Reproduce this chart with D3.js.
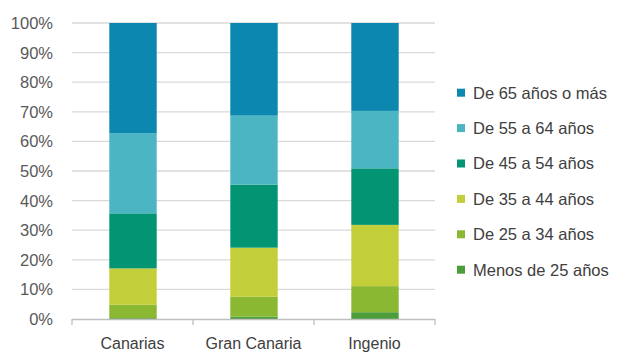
<!DOCTYPE html>
<html><head><meta charset="utf-8">
<script src="https://cdn.jsdelivr.net/npm/d3@7"></script>
<style>body{margin:0;background:#fff}svg{display:block}text{font-family:"Liberation Sans",Arial,sans-serif}</style>
</head><body><svg id="c" width="617" height="353"></svg>
<script>
const categories = ["Canarias", "Gran Canaria", "Ingenio"];
const seriesNames = ["Menos de 25 años", "De 25 a 34 años", "De 35 a 44 años", "De 45 a 54 años", "De 55 a 64 años", "De 65 años o más"];
const menos25 = [0.3, 0.8, 2.3];
const de25a34 = [4.5, 6.7, 8.8];
const de35a44 = [12.3, 16.6, 20.7];
const de45a54 = [18.6, 21.3, 19.1];
const de55a64 = [27.1, 23.3, 19.4];
const de65mas = [37.2, 31.3, 29.7];
const tickValues = [0, 10, 20, 30, 40, 50, 60, 70, 80, 90, 100];
const colors = ["#4e9d3c", "#8ab833", "#c3cf3a", "#039474", "#4bb5c4", "#0b87b0"];

const seriesVals = [menos25, de25a34, de35a44, de45a54, de55a64, de65mas];
const rows = categories.map((c, i) => {
  const r = {cat: c};
  seriesNames.forEach((s, j) => r[s] = seriesVals[j][i]);
  return r;
});
const stack = d3.stack().keys(seriesNames)(rows);

const svg = d3.select("#c");
const x0 = 72, x1 = 435, yTop = 23, yBot = 319;
const x = d3.scaleBand().domain(categories).range([x0, x1]).paddingInner(0.6).paddingOuter(0.3);
const y = d3.scaleLinear().domain([0, 100]).range([yBot, yTop]);

// gridlines
svg.append("g").selectAll("line").data(tickValues.filter(t => t > 0)).join("line")
  .attr("x1", x0).attr("x2", x1).attr("y1", y).attr("y2", y)
  .attr("stroke", "#d9d9d9").attr("stroke-width", 1.3);

// y labels
svg.append("g").selectAll("text").data(tickValues).join("text")
  .attr("x", 53).attr("y", d => y(d)).attr("dy", "0.36em").attr("text-anchor", "end")
  .attr("font-size", 16.5).attr("fill", "#595959").text(d => d + "%");

// bars
svg.append("g").selectAll("g").data(stack).join("g")
  .attr("fill", (d, i) => colors[i])
  .selectAll("rect").data(d => d).join("rect")
  .attr("x", d => x(d.data.cat) + 1).attr("width", x.bandwidth() - 1)
  .attr("y", d => y(d[1])).attr("height", d => y(d[0]) - y(d[1]));

// x axis
const xb = d3.scalePoint().domain(d3.range(categories.length + 1)).range([x0, x1]);
const ax = svg.append("g");
ax.append("line").attr("x1", x0).attr("x2", x1).attr("y1", yBot + 0.5).attr("y2", yBot + 0.5).attr("stroke", "#bfbfbf").attr("stroke-width", 1.3);
ax.selectAll("line.t").data(xb.domain()).join("line").attr("class", "t")
  .attr("x1", d => xb(d)).attr("x2", d => xb(d)).attr("y1", yBot).attr("y2", yBot + 6)
  .attr("stroke", "#bfbfbf").attr("stroke-width", 1.3);
ax.selectAll("text").data(categories).join("text")
  .attr("x", d => x(d) + x.bandwidth() / 2).attr("y", 348.5).attr("text-anchor", "middle")
  .attr("font-size", 16).attr("fill", "#404040").text(d => d);

// legend
const legOrder = seriesNames.slice().reverse();
const lg = svg.append("g").selectAll("g").data(legOrder).join("g")
  .attr("transform", (d, i) => `translate(457,${92.7 + i * 35.4})`);
lg.append("rect").attr("x", 0).attr("y", -4).attr("width", 8).attr("height", 8)
  .attr("fill", d => colors[seriesNames.indexOf(d)]);
lg.append("text").attr("x", 16).attr("dy", "0.36em").attr("font-size", 16.5).attr("fill", "#404040").text(d => d);
</script></body></html>
